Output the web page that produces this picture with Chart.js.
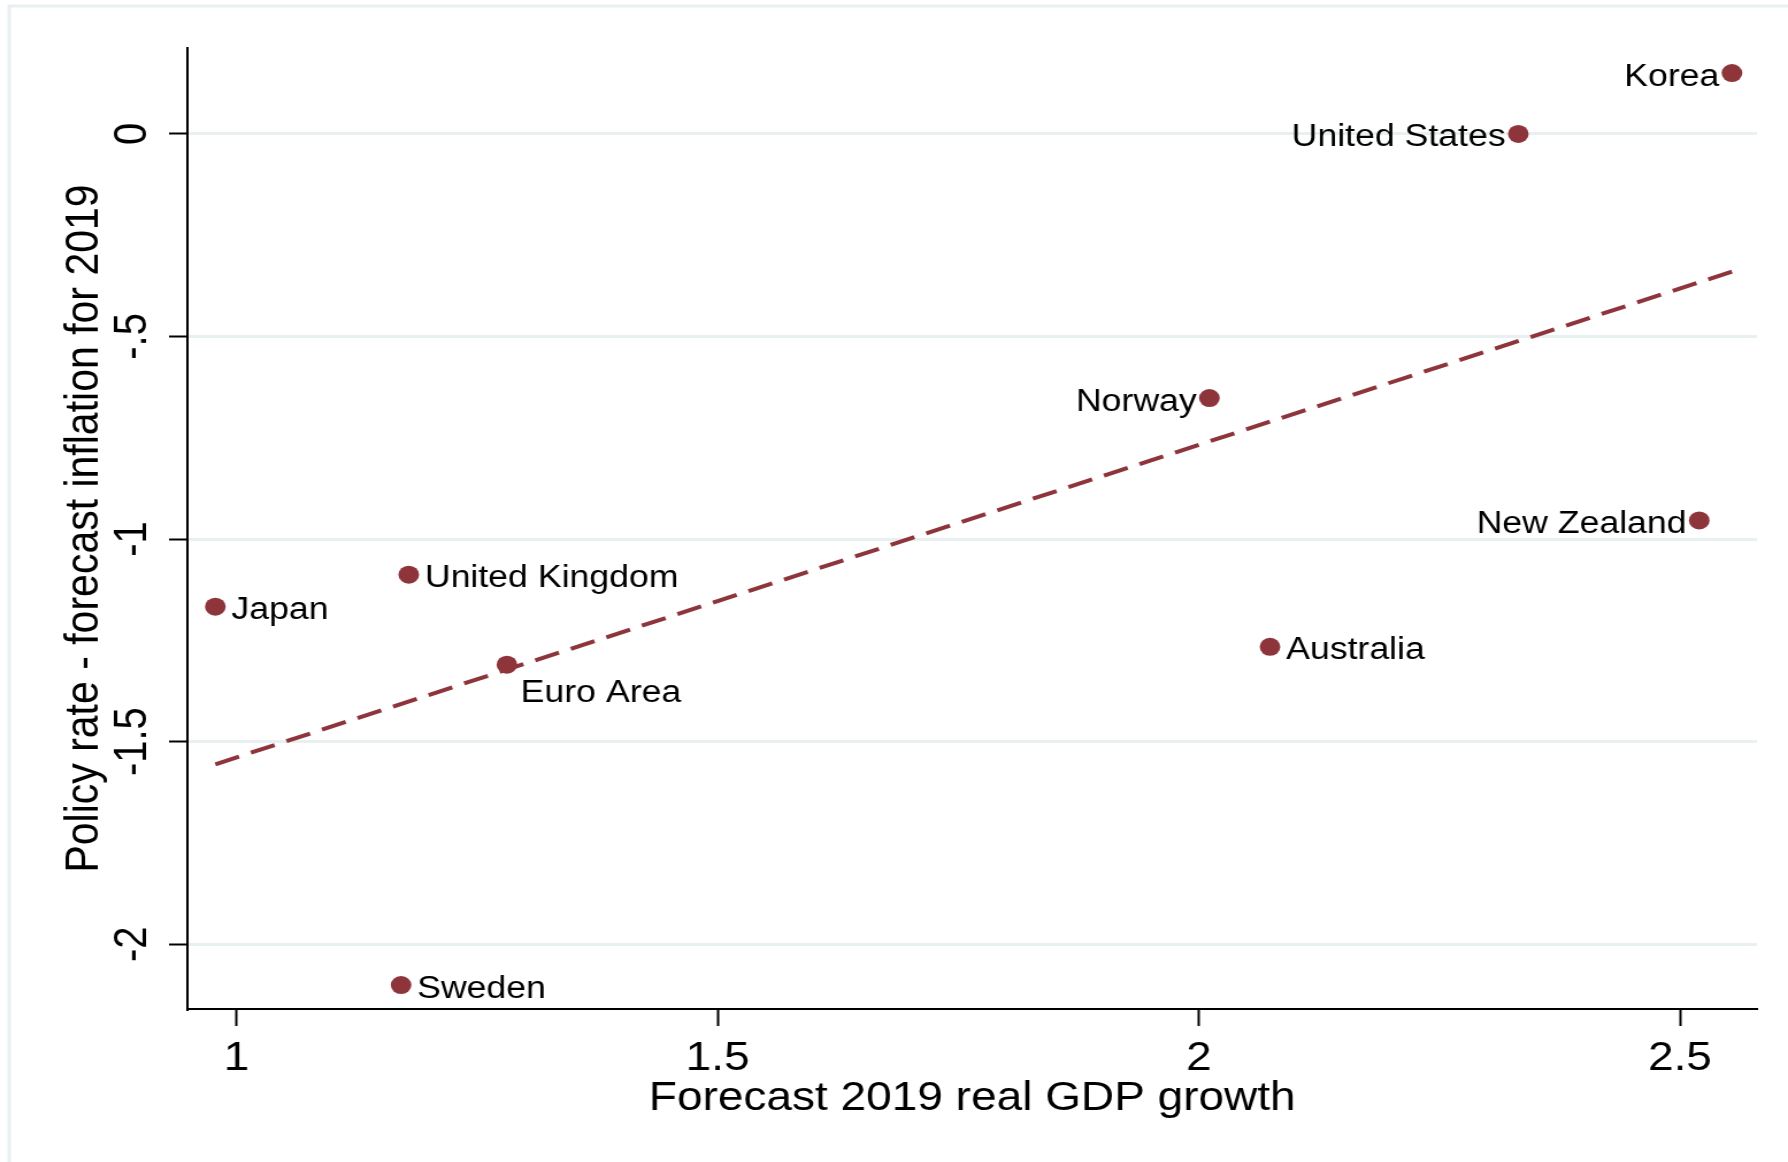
<!DOCTYPE html>
<html>
<head>
<meta charset="utf-8">
<script src="https://cdn.jsdelivr.net/npm/chart.js@4.4.1/dist/chart.umd.min.js"></script>
<style>
  html, body { margin: 0; padding: 0; background: #fff; overflow: hidden; }
  canvas { display: block; }
</style>
</head>
<body>
<!-- the reference is stretched sideways, so the canvas is drawn narrower and widened by css -->
<canvas id="chart" width="1555" height="1162" style="width:1788px;height:1162px"></canvas>
<script>
// countries and their values
const countries = ["Korea", "United States", "Norway", "New Zealand", "Australia", "United Kingdom", "Japan", "Euro Area", "Sweden"];
const gdpGrowth = [2.554, 2.332, 2.011, 2.520, 2.074, 1.179, 0.978, 1.281, 1.171];
const realRate = [0.150, 0.000, -0.652, -0.954, -1.266, -1.088, -1.167, -1.310, -2.101];
const labelSide = ["left", "left", "left", "left", "right", "right", "right", "below", "right"];

// end points of the fitted line
const fitX = [0.978, 2.554];
const fitY = [-1.556, -0.340];

const xTicks = [1, 1.5, 2, 2.5];
const xTickLabels = ["1", "1.5", "2", "2.5"];
const yTicks = [0, -0.5, -1, -1.5, -2];
const yTickLabels = ["0", "-.5", "-1", "-1.5", "-2"];

const maroon = "#8e353c";
const fontFamily = '"Liberation Sans", Arial, Helvetica, sans-serif';

Chart.defaults.font.family = fontFamily;
Chart.defaults.color = "#000";

// white background plus the pale outer frame
const framePlugin = {
    id: "frame",
    beforeDraw(chart) {
        const ctx = chart.ctx;
        ctx.save();
        ctx.fillStyle = "#fff";
        ctx.fillRect(0, 0, chart.width, chart.height);
        ctx.strokeStyle = "#e8f0f1";
        ctx.lineWidth = 3;
        ctx.strokeRect(8, 6, 3000, 3000);
        ctx.restore();
    }
};

// rotated y tick labels, stata style
const yTickPlugin = {
    id: "yTickLabels",
    afterDraw(chart) {
        const ctx = chart.ctx;
        const yScale = chart.scales.y;
        ctx.save();
        ctx.font = "40px " + fontFamily;
        ctx.fillStyle = "#000";
        ctx.textAlign = "center";
        ctx.textBaseline = "middle";
        yTicks.forEach((v, i) => {
            ctx.save();
            ctx.translate(116, yScale.getPixelForValue(v));
            ctx.rotate(-Math.PI / 2);
            ctx.fillText(yTickLabels[i], 0, 0);
            ctx.restore();
        });
        ctx.restore();
    }
};

// country names beside each marker
const pointLabelPlugin = {
    id: "pointLabels",
    afterDatasetsDraw(chart) {
        const ctx = chart.ctx;
        const meta = chart.getDatasetMeta(0);
        ctx.save();
        ctx.font = "31px " + fontFamily;
        ctx.fillStyle = "#000";
        ctx.textBaseline = "middle";
        meta.data.forEach((pt, i) => {
            const side = labelSide[i];
            if (side === "left") {
                ctx.textAlign = "right";
                ctx.fillText(countries[i], pt.x - 11, pt.y + 4);
            } else if (side === "right") {
                ctx.textAlign = "left";
                ctx.fillText(countries[i], pt.x + 14, pt.y + 4);
            } else {
                ctx.textAlign = "left";
                ctx.fillText(countries[i], pt.x + 12, pt.y + 29);
            }
        });
        ctx.restore();
    }
};

new Chart(document.getElementById("chart"), {
    type: "scatter",
    data: {
        datasets: [{
            label: "countries",
            data: gdpGrowth.map((x, i) => ({ x: x, y: realRate[i] })),
            backgroundColor: maroon,
            borderWidth: 0,
            pointRadius: 9,
            pointHoverRadius: 9,
        }, {
            label: "fit",
            type: "line",
            data: fitX.map((x, i) => ({ x: x, y: fitY[i] })),
            borderColor: maroon,
            borderWidth: 4,
            borderDash: [22, 11],
            pointRadius: 0,
            fill: false,
        }]
    },
    options: {
        responsive: false,
        animation: false,
        layout: { padding: { top: 48, right: 27, left: 0, bottom: 0 } },
        scales: {
            x: {
                type: "linear",
                min: 0.949,
                max: 2.580,
                afterBuildTicks: s => { s.ticks = xTicks.map(v => ({ value: v })); },
                afterFit: s => { s.height = 153; },
                border: { display: true, color: "#000", width: 2 },
                grid: { drawOnChartArea: false, drawTicks: true, tickLength: 17, tickColor: "#000", tickWidth: 2 },
                ticks: {
                    font: { size: 40 },
                    color: "#000",
                    padding: 9,
                    maxRotation: 0,
                    autoSkip: false,
                    callback: (v, i) => xTickLabels[i],
                },
                title: {
                    display: true,
                    text: "Forecast 2019 real GDP growth",
                    font: { size: 40 },
                    color: "#000",
                    padding: { top: 0, bottom: 39 },
                }
            },
            y: {
                type: "linear",
                min: -2.160,
                max: 0.212,
                afterBuildTicks: s => { s.ticks = yTicks.map(v => ({ value: v })); },
                afterFit: s => { s.width = 163; },
                border: { display: true, color: "#000", width: 2 },
                grid: { color: "#e8f0f1", lineWidth: 3, drawTicks: true, tickLength: 16, tickColor: "#000", tickWidth: 2 },
                ticks: { display: false },
                title: {
                    display: true,
                    text: "Policy rate - forecast inflation for 2019",
                    font: { size: 41 },
                    color: "#000",
                    padding: { top: 49, bottom: 0 },
                }
            }
        },
        plugins: {
            legend: { display: false },
            tooltip: { enabled: false }
        }
    },
    plugins: [framePlugin, yTickPlugin, pointLabelPlugin]
});
</script>
</body>
</html>
